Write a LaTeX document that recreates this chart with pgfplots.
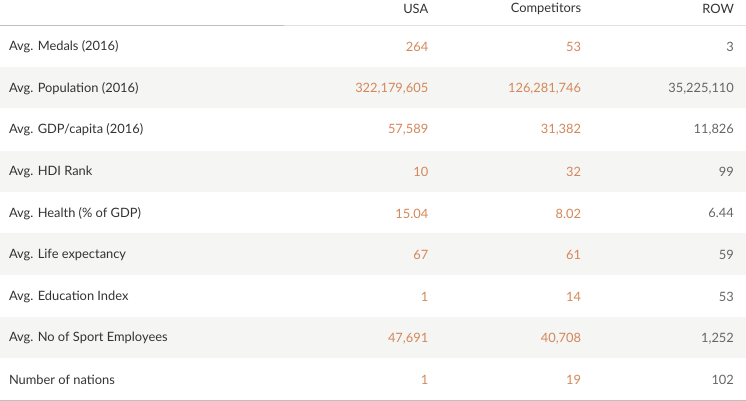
\documentclass[border=0pt]{standalone}
\usepackage{pgfplots}
\pgfplotsset{compat=1.18}
\usepackage{fontspec}
\setmainfont{Lato}
\definecolor{org}{HTML}{D4875A}
\definecolor{grt}{HTML}{666666}
\definecolor{lab}{HTML}{333333}
\definecolor{band}{HTML}{F5F5F3}
\newcommand\fnt{\fontsize{12.5}{14}\selectfont}
\newcommand\row[5]{%
 \node[anchor=west,font=\fnt,text=lab] at (axis cs:17,#1) {#2};
 \node[anchor=east,font=\fnt,text=org] at (axis cs:430,#1) {#3};
 \node[anchor=east,font=\fnt,text=org] at (axis cs:578,#1) {#4};
 \node[anchor=east,font=\fnt,text=grt] at (axis cs:726,#1) {#5};}
\begin{document}
\begin{tikzpicture}
\begin{axis}[width=746bp,height=422bp,scale only axis,hide axis,
  xmin=0,xmax=746,ymin=0,ymax=422,y dir=reverse,clip=false]
\fill[band] (axis cs:12,87) rectangle (axis cs:734,127);
\fill[band] (axis cs:12,168) rectangle (axis cs:734,208);
\fill[band] (axis cs:12,248) rectangle (axis cs:734,288);
\fill[band] (axis cs:12,329) rectangle (axis cs:734,369);
\draw[black!25] (axis cs:12,46) -- (axis cs:287,46);
\draw[black!12] (axis cs:287,46) -- (axis cs:734,46);
\draw[black!25] (axis cs:12,410) -- (axis cs:734,410);
\node[anchor=east,font=\fnt,text=lab] at (axis cs:430,31) {USA};
\node[anchor=east,font=\fnt,text=lab] at (axis cs:578,31) {Competitors};
\node[anchor=east,font=\fnt,text=lab] at (axis cs:726,31) {ROW};
\row{67.5}{Avg. Medals (2016)}{264}{53}{3}
\row{107.8}{Avg. Population (2016)}{322,179,605}{126,281,746}{35,225,110}
\row{148.1}{Avg. GDP/capita (2016)}{57,589}{31,382}{11,826}
\row{188.4}{Avg. HDI Rank}{10}{32}{99}
\row{228.7}{Avg. Health (\% of GDP)}{15.04}{8.02}{6.44}
\row{269}{Avg. Life expectancy}{67}{61}{59}
\row{309.3}{Avg. Education Index}{1}{14}{53}
\row{349.6}{Avg. No of Sport Employees}{47,691}{40,708}{1,252}
\row{389.9}{Number of nations}{1}{19}{102}
\end{axis}
\end{tikzpicture}
\end{document}
